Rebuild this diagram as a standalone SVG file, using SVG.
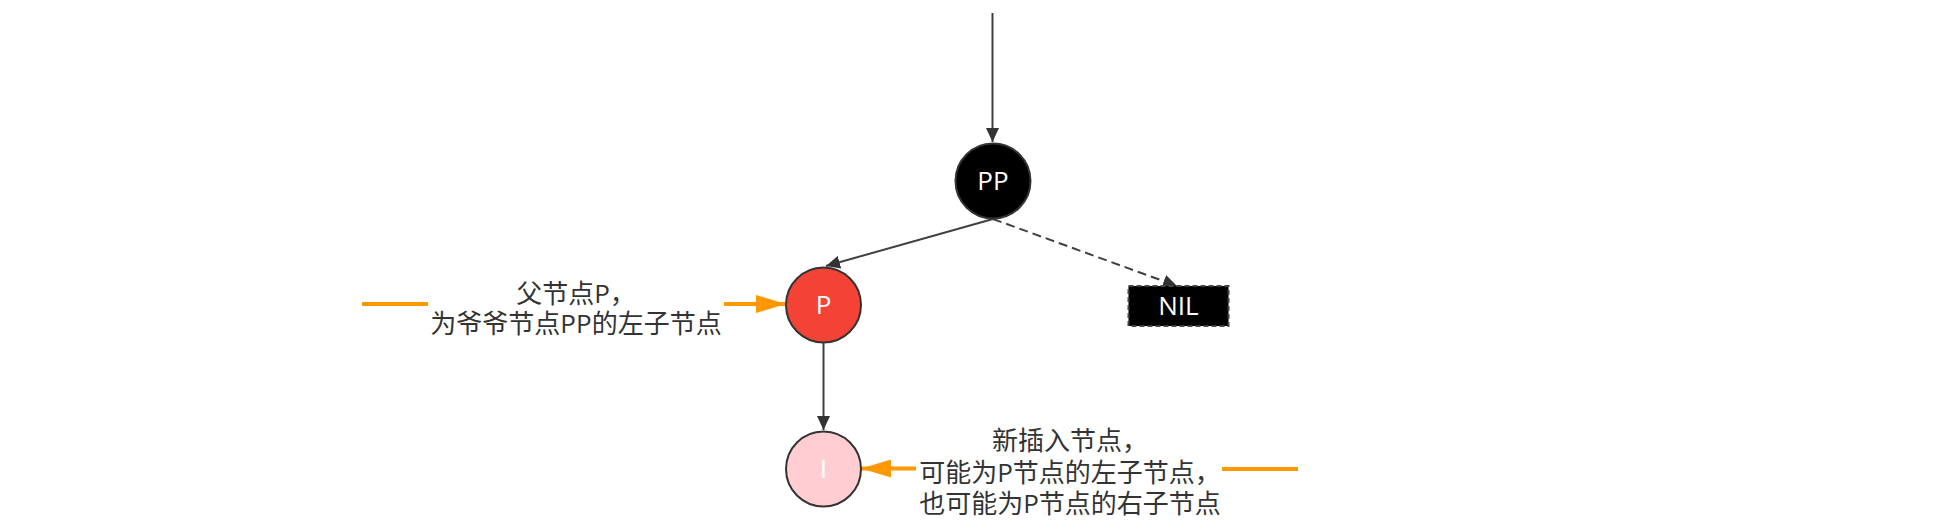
<svg xmlns="http://www.w3.org/2000/svg" width="1937" height="524" viewBox="0 0 1937 524">
<style>
.edge{stroke:#404040;stroke-width:2;fill:none}
.orange{stroke:#ff9800;stroke-width:4;fill:none}
.node{stroke:#333;stroke-width:2}
.lbl{font-family:"Open Sans","Noto Sans CJK SC",sans-serif;font-size:26px;fill:#fff;text-anchor:middle}
.note{font-family:"Open Sans","Noto Sans CJK SC",sans-serif;font-size:26px;fill:#333;text-anchor:middle}
</style>
<defs>
<marker id="ah" markerWidth="14" markerHeight="13" refX="14" refY="6.5" orient="auto" markerUnits="userSpaceOnUse">
<path d="M0,0 L14,6.5 L0,13 Z" fill="#333"/>
</marker>
<marker id="oh" markerWidth="30" markerHeight="18" refX="30" refY="9" orient="auto" markerUnits="userSpaceOnUse">
<path d="M0,0 L30,9 L0,18 Z" fill="#ff9800"/>
</marker>
</defs>
<g id="connectors">
<line class="edge" x1="992.5" y1="13" x2="992.5" y2="142" marker-end="url(#ah)"/>
<line class="edge" x1="993" y1="219" x2="826" y2="266" marker-end="url(#ah)"/>
<line class="edge" x1="993" y1="219" x2="1177" y2="286" stroke-dasharray="9 5" marker-end="url(#ah)"/>
<line class="edge" x1="823.5" y1="343" x2="823.5" y2="430" marker-end="url(#ah)"/>
<line class="orange" x1="362" y1="304" x2="428" y2="304"/>
<line class="orange" x1="724" y1="304" x2="786" y2="304" marker-end="url(#oh)"/>
<line class="orange" x1="1222" y1="469" x2="1298" y2="469"/>
<line class="orange" x1="916" y1="468.5" x2="861" y2="468.5" marker-end="url(#oh)"/>
</g>
<g id="node-PP">
<circle class="node" cx="993" cy="181" r="37.5" fill="#000"/>
<text class="lbl" x="993" y="190">PP</text>
</g>
<g id="node-P">
<circle class="node" cx="823.5" cy="305" r="37.5" fill="#f44336"/>
<text class="lbl" x="823.5" y="314">P</text>
</g>
<g id="node-I">
<circle class="node" cx="823.5" cy="469" r="37.5" fill="#ffcdd2"/>
<text class="lbl" x="823.5" y="478">I</text>
</g>
<g id="node-NIL">
<rect x="1128.5" y="286" width="100" height="40" fill="#000" stroke="#444" stroke-width="2" stroke-dasharray="5 3"/>
<text class="lbl" x="1178.5" y="315">NIL</text>
</g>
<g id="note-P">
<text class="note" x="576" y="302.5">父节点P，</text>
<text class="note" x="576" y="333">为爷爷节点PP的左子节点</text>
</g>
<g id="note-I">
<text class="note" x="1070" y="450">新插入节点，</text>
<text class="note" x="1070" y="481.5">可能为P节点的左子节点，</text>
<text class="note" x="1070" y="513">也可能为P节点的右子节点</text>
</g>
</svg>
